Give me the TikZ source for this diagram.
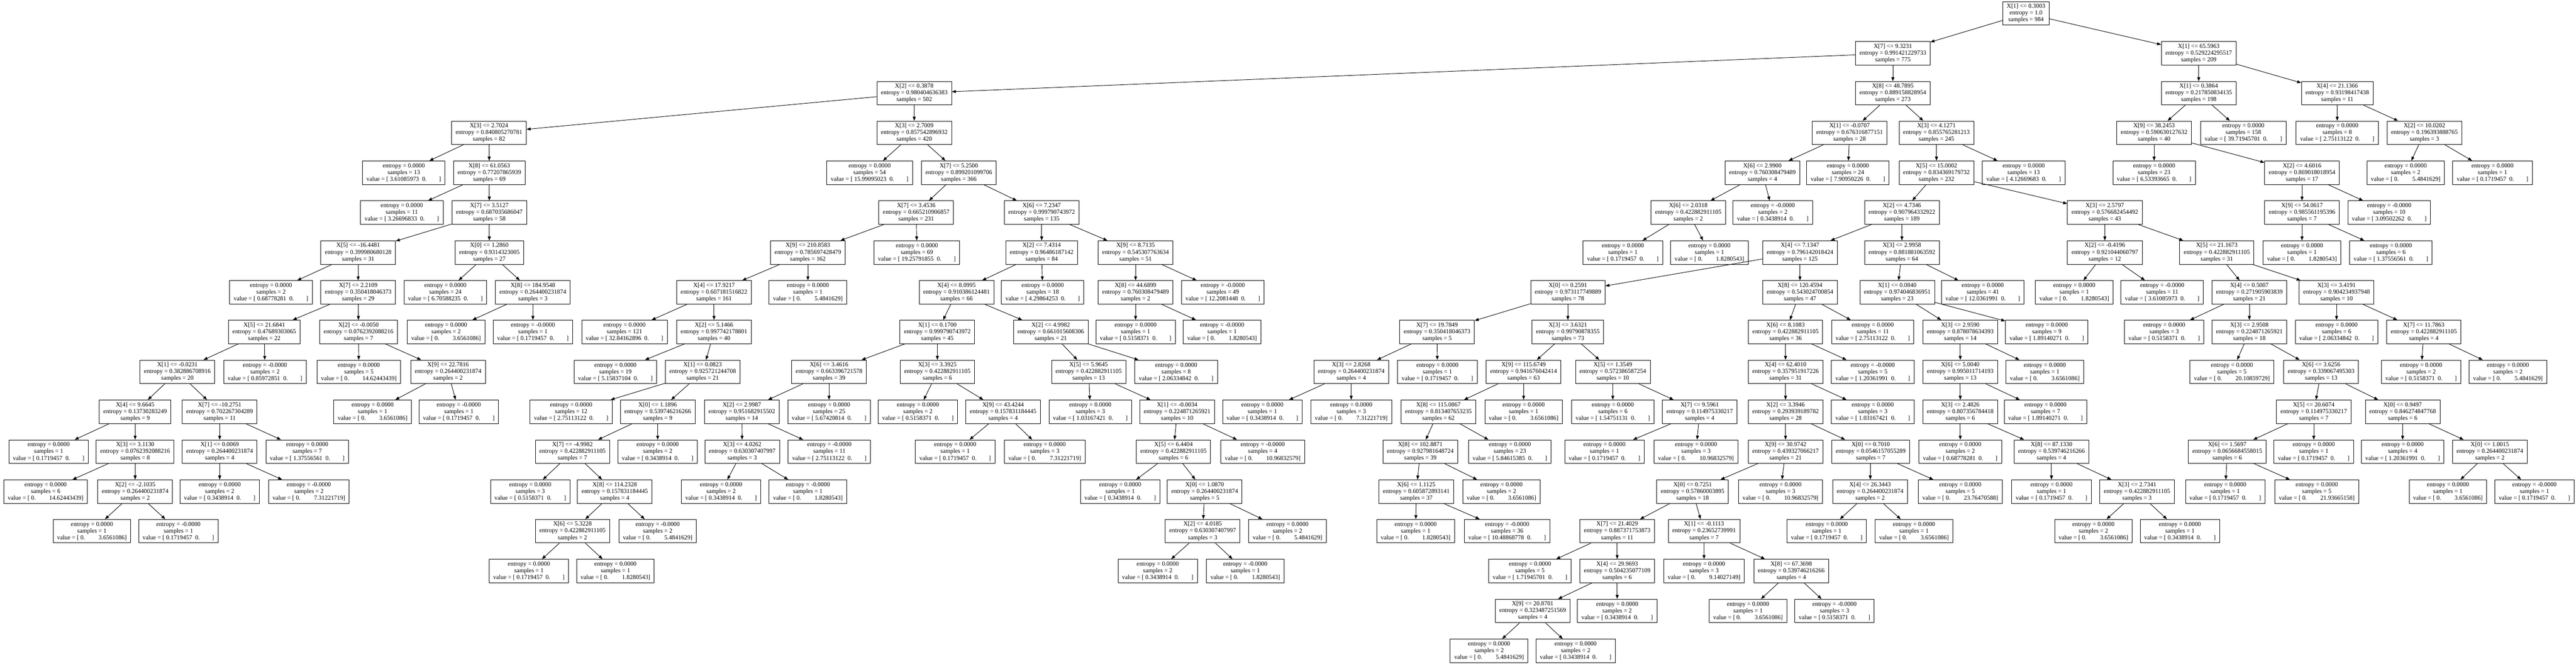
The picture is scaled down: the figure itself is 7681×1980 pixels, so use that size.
\documentclass[tikz,border=0pt]{standalone}
\usepackage{fontspec}
\setmainfont{Liberation Serif}
\usepackage{tikz}
\usetikzlibrary{arrows.meta}
\usetikzlibrary{positioning}
\tikzset{
    split/.style={
           rectangle,
           draw=black, line width=0.4pt,
           align=center,
           inner xsep=0.12cm,
           inner ysep=0.04cm,
           minimum height=0.7cm,
           font=\fontsize{5.2}{5.7}\selectfont,
           },
    leaf/.style={
           split,
           },
    pil/.style={
           ->,
           line width=0.4pt,}
}
\newcommand{\dtsplit}[3]{#1\\entropy = #2\\samples = #3}
\newcommand{\dtleaf}[3]{entropy = #1\\samples = #2\\value = [ #3]}
\newcommand{\valr}[1]{#1\hspace{0.5em}0.\hspace{2em}}
\newcommand{\vall}[1]{0.\hspace{2.2em}#1}
\begin{document}
\begin{tikzpicture}[x=0.01cm,y=-0.01cm,->,>={Triangle[length=1.2mm,width=0.9mm]}]
\useasboundingbox (0,0) rectangle (7681,1980);
% ROOT
\node[split] (N0) at (6041,40) {\dtsplit{X[1] <= 0.3003}{1.0}{984}};
% LEFT BRANCH
\node[split] (N1) at (5644,159) {\dtsplit{X[7] <= 9.3231}{0.991421229733}{775}};
\node[split] (N2) at (2726,278) {\dtsplit{X[2] <= 0.3878}{0.980404636383}{502}};
\node[split] (N3) at (1458,396) {\dtsplit{X[3] <= 2.7024}{0.840805270781}{82}};
\node[leaf] (N4) at (1204,515) {\dtleaf{0.0000}{13}{\valr{3.61085973}}};
\node[split] (N5) at (1459,515) {\dtsplit{X[8] <= 61.0563}{0.77207865939}{69}};
\node[leaf] (N6) at (1198,634) {\dtleaf{0.0000}{11}{\valr{3.26696833}}};
\node[split] (N7) at (1459,634) {\dtsplit{X[7] <= 3.5127}{0.687035686047}{58}};
\node[split] (N8) at (1068,753) {\dtsplit{X[5] <= -16.4481}{0.399980680128}{31}};
\node[leaf] (N9) at (808,872) {\dtleaf{0.0000}{2}{\valr{0.68778281}}};
\node[split] (N10) at (1068,872) {\dtsplit{X[7] <= 2.2109}{0.350418046373}{29}};
\node[split] (N11) at (788,990) {\dtsplit{X[5] <= 21.6841}{0.47689303065}{22}};
\node[split] (N12) at (529,1109) {\dtsplit{X[1] <= -0.0231}{0.382886708916}{20}};
\node[split] (N13) at (403,1228) {\dtsplit{X[4] <= 9.6645}{0.13730283249}{9}};
\node[leaf] (N14) at (145,1347) {\dtleaf{0.0000}{1}{\valr{0.1719457}}};
\node[split] (N15) at (403,1347) {\dtsplit{X[3] <= 3.1130}{0.0762392088216}{8}};
\node[leaf] (N16) at (136,1466) {\dtleaf{0.0000}{6}{\vall{14.62443439}}};
\node[split] (N17) at (403,1466) {\dtsplit{X[2] <= -2.1035}{0.264400231874}{2}};
\node[leaf] (N18) at (274,1584) {\dtleaf{0.0000}{1}{\vall{3.6561086}}};
\node[leaf] (N19) at (532,1584) {\dtleaf{-0.0000}{1}{\valr{0.1719457}}};
\node[split] (N20) at (655,1228) {\dtsplit{X[7] <= -10.2751}{0.702267304289}{11}};
\node[split] (N21) at (655,1347) {\dtsplit{X[1] <= 0.0069}{0.264400231874}{4}};
\node[leaf] (N22) at (655,1466) {\dtleaf{0.0000}{2}{\valr{0.3438914}}};
\node[leaf] (N23) at (921,1466) {\dtleaf{-0.0000}{2}{\vall{7.31221719}}};
\node[leaf] (N24) at (916,1347) {\dtleaf{0.0000}{7}{\valr{1.37556561}}};
\node[leaf] (N25) at (790,1109) {\dtleaf{-0.0000}{2}{\valr{0.85972851}}};
\node[split] (N26) at (1069,990) {\dtsplit{X[2] <= -0.0050}{0.0762392088216}{7}};
\node[leaf] (N27) at (1070,1109) {\dtleaf{0.0000}{5}{\vall{14.62443439}}};
\node[split] (N28) at (1336,1109) {\dtsplit{X[9] <= 22.7816}{0.264400231874}{2}};
\node[leaf] (N29) at (1111,1228) {\dtleaf{0.0000}{1}{\vall{3.6561086}}};
\node[leaf] (N30) at (1368,1228) {\dtleaf{-0.0000}{1}{\valr{0.1719457}}};
\node[split] (N31) at (1459,753) {\dtsplit{X[0] <= 1.2860}{0.9314323005}{27}};
\node[leaf] (N32) at (1328,872) {\dtleaf{0.0000}{24}{\valr{6.70588235}}};
\node[split] (N33) at (1589,872) {\dtsplit{X[8] <= 184.9548}{0.264400231874}{3}};
\node[leaf] (N34) at (1330,990) {\dtleaf{0.0000}{2}{\vall{3.6561086}}};
\node[leaf] (N35) at (1589,990) {\dtleaf{-0.0000}{1}{\valr{0.1719457}}};
\node[split] (N36) at (2726,396) {\dtsplit{X[3] <= 2.7009}{0.857542896932}{420}};
\node[leaf] (N37) at (2593,515) {\dtleaf{0.0000}{54}{\valr{15.99095023}}};
\node[split] (N38) at (2859,515) {\dtsplit{X[7] <= 5.2500}{0.899201099706}{366}};
\node[split] (N39) at (2732,634) {\dtsplit{X[7] <= 3.4536}{0.665210906857}{231}};
\node[split] (N40) at (2409,753) {\dtsplit{X[9] <= 210.8583}{0.785697428479}{162}};
\node[split] (N41) at (2129,872) {\dtsplit{X[4] <= 17.9217}{0.607181516822}{161}};
\node[leaf] (N42) at (1862,990) {\dtleaf{0.0000}{121}{\valr{32.84162896}}};
\node[split] (N43) at (2129,990) {\dtsplit{X[2] <= 5.1466}{0.997742178801}{40}};
\node[leaf] (N44) at (1835,1109) {\dtleaf{0.0000}{19}{\valr{5.15837104}}};
\node[split] (N45) at (2095,1109) {\dtsplit{X[1] <= 0.0823}{0.925721244708}{21}};
\node[leaf] (N46) at (1703,1228) {\dtleaf{0.0000}{12}{\valr{2.75113122}}};
\node[split] (N47) at (1961,1228) {\dtsplit{X[0] <= 1.1896}{0.539746216266}{9}};
\node[split] (N48) at (1707,1347) {\dtsplit{X[7] <= -4.9982}{0.422882911105}{7}};
\node[leaf] (N49) at (1581,1466) {\dtleaf{0.0000}{3}{\valr{0.5158371}}};
\node[split] (N50) at (1833,1466) {\dtsplit{X[8] <= 114.2328}{0.157831184445}{4}};
\node[split] (N51) at (1707,1584) {\dtsplit{X[6] <= 5.3228}{0.422882911105}{2}};
\node[leaf] (N52) at (1577,1703) {\dtleaf{0.0000}{1}{\valr{0.1719457}}};
\node[leaf] (N53) at (1835,1703) {\dtleaf{0.0000}{1}{\vall{1.8280543}}};
\node[leaf] (N54) at (1961,1584) {\dtleaf{-0.0000}{2}{\vall{5.4841629}}};
\node[leaf] (N55) at (1961,1347) {\dtleaf{0.0000}{2}{\valr{0.3438914}}};
\node[leaf] (N56) at (2409,872) {\dtleaf{0.0000}{1}{\vall{5.4841629}}};
\node[leaf] (N57) at (2734,753) {\dtleaf{0.0000}{69}{\valr{19.25791855}}};
\node[split] (N58) at (3106,634) {\dtsplit{X[6] <= 7.2347}{0.999790743972}{135}};
\node[split] (N59) at (3106,753) {\dtsplit{X[2] <= 7.4314}{0.96486187142}{84}};
\node[split] (N60) at (2852,872) {\dtsplit{X[4] <= 8.0995}{0.910386124481}{66}};
\node[split] (N61) at (2795,990) {\dtsplit{X[1] <= 0.1700}{0.999790743972}{45}};
\node[split] (N62) at (2472,1109) {\dtsplit{X[6] <= 3.4616}{0.663396721578}{39}};
\node[split] (N63) at (2212,1228) {\dtsplit{X[2] <= 2.9987}{0.951682915502}{14}};
\node[split] (N64) at (2213,1347) {\dtsplit{X[3] <= 4.0262}{0.630307407997}{3}};
\node[leaf] (N65) at (2150,1466) {\dtleaf{0.0000}{2}{\valr{0.3438914}}};
\node[leaf] (N66) at (2409,1466) {\dtleaf{-0.0000}{1}{\vall{1.8280543}}};
\node[leaf] (N67) at (2473,1347) {\dtleaf{-0.0000}{11}{\valr{2.75113122}}};
\node[leaf] (N68) at (2472,1228) {\dtleaf{0.0000}{25}{\valr{5.67420814}}};
\node[split] (N69) at (2795,1109) {\dtsplit{X[3] <= 3.3925}{0.422882911105}{6}};
\node[leaf] (N70) at (2737,1228) {\dtleaf{0.0000}{2}{\valr{0.5158371}}};
\node[split] (N71) at (2991,1228) {\dtsplit{X[9] <= 43.4244}{0.157831184445}{4}};
\node[leaf] (N72) at (2848,1347) {\dtleaf{0.0000}{1}{\valr{0.1719457}}};
\node[leaf] (N73) at (3115,1347) {\dtleaf{0.0000}{3}{\vall{7.31221719}}};
\node[split] (N74) at (3133,990) {\dtsplit{X[2] <= 4.9982}{0.661015608306}{21}};
\node[split] (N75) at (3246,1109) {\dtsplit{X[5] <= 5.9645}{0.422882911105}{13}};
\node[leaf] (N76) at (3251,1228) {\dtleaf{0.0000}{3}{\valr{1.03167421}}};
\node[split] (N77) at (3510,1228) {\dtsplit{X[1] <= -0.0034}{0.224871265921}{10}};
\node[split] (N78) at (3499,1347) {\dtsplit{X[5] <= 6.4404}{0.422882911105}{6}};
\node[leaf] (N79) at (3340,1466) {\dtleaf{0.0000}{1}{\valr{0.3438914}}};
\node[split] (N80) at (3592,1466) {\dtsplit{X[0] <= 1.0870}{0.264400231874}{5}};
\node[split] (N81) at (3586,1584) {\dtsplit{X[2] <= 4.0185}{0.630307407997}{3}};
\node[leaf] (N82) at (3452,1703) {\dtleaf{0.0000}{2}{\valr{0.3438914}}};
\node[leaf] (N83) at (3713,1703) {\dtleaf{-0.0000}{1}{\vall{1.8280543}}};
\node[leaf] (N84) at (3839,1584) {\dtleaf{0.0000}{2}{\vall{5.4841629}}};
\node[leaf] (N85) at (3765,1347) {\dtleaf{-0.0000}{4}{\vall{10.96832579}}};
\node[leaf] (N86) at (3507,1109) {\dtleaf{0.0000}{8}{\valr{2.06334842}}};
\node[leaf] (N87) at (3109,872) {\dtleaf{0.0000}{18}{\valr{4.29864253}}};
\node[split] (N88) at (3386,753) {\dtsplit{X[9] <= 8.7135}{0.545307763634}{51}};
\node[split] (N89) at (3386,872) {\dtsplit{X[8] <= 44.6899}{0.760308479489}{2}};
\node[leaf] (N90) at (3386,990) {\dtleaf{0.0000}{1}{\valr{0.5158371}}};
\node[leaf] (N91) at (3644,990) {\dtleaf{-0.0000}{1}{\vall{1.8280543}}};
\node[leaf] (N92) at (3646,872) {\dtleaf{-0.0000}{49}{\valr{12.2081448}}};
% MIDDLE BRANCH
\node[split] (N93) at (5644,278) {\dtsplit{X[8] <= 48.7895}{0.889158828954}{273}};
\node[split] (N94) at (5515,396) {\dtsplit{X[1] <= -0.0707}{0.676316877151}{28}};
\node[split] (N95) at (5255,515) {\dtsplit{X[6] <= 2.9900}{0.760308479489}{4}};
\node[split] (N96) at (5034,634) {\dtsplit{X[6] <= 2.0318}{0.422882911105}{2}};
\node[leaf] (N97) at (4839,753) {\dtleaf{0.0000}{1}{\valr{0.1719457}}};
\node[leaf] (N98) at (5097,753) {\dtleaf{0.0000}{1}{\vall{1.8280543}}};
\node[leaf] (N99) at (5286,634) {\dtleaf{-0.0000}{2}{\valr{0.3438914}}};
\node[leaf] (N100) at (5510,515) {\dtleaf{0.0000}{24}{\valr{7.90950226}}};
\node[split] (N101) at (5774,396) {\dtsplit{X[3] <= 4.1271}{0.855765281213}{245}};
\node[split] (N102) at (5774,515) {\dtsplit{X[5] <= 15.0002}{0.834369179732}{232}};
\node[split] (N103) at (5671,634) {\dtsplit{X[2] <= 4.7346}{0.907964332922}{189}};
\node[split] (N104) at (5367,753) {\dtsplit{X[4] <= 7.1347}{0.796142018424}{125}};
\node[split] (N105) at (4675,872) {\dtsplit{X[0] <= 0.2591}{0.973117749889}{78}};
\node[split] (N106) at (4285,990) {\dtsplit{X[7] <= 19.7849}{0.350418046373}{5}};
\node[split] (N107) at (4029,1109) {\dtsplit{X[3] <= 2.8268}{0.264400231874}{4}};
\node[leaf] (N108) at (3764,1228) {\dtleaf{0.0000}{1}{\valr{0.3438914}}};
\node[leaf] (N109) at (4029,1228) {\dtleaf{0.0000}{3}{\vall{7.31221719}}};
\node[leaf] (N110) at (4286,1109) {\dtleaf{0.0000}{1}{\valr{0.1719457}}};
\node[split] (N111) at (4675,990) {\dtsplit{X[3] <= 3.6321}{0.99790878355}{73}};
\node[split] (N112) at (4543,1109) {\dtsplit{X[9] <= 115.6749}{0.941676042414}{63}};
\node[split] (N113) at (4289,1228) {\dtsplit{X[8] <= 115.0867}{0.813407653235}{62}};
\node[split] (N114) at (4235,1347) {\dtsplit{X[8] <= 102.8871}{0.927981648724}{39}};
\node[split] (N115) at (4223,1466) {\dtsplit{X[6] <= 1.1125}{0.605872893141}{37}};
\node[leaf] (N116) at (4221,1584) {\dtleaf{0.0000}{1}{\vall{1.8280543}}};
\node[leaf] (N117) at (4494,1584) {\dtleaf{-0.0000}{36}{\valr{10.48868778}}};
\node[leaf] (N118) at (4477,1466) {\dtleaf{0.0000}{2}{\vall{3.6561086}}};
\node[leaf] (N119) at (4502,1347) {\dtleaf{0.0000}{23}{\valr{5.84615385}}};
\node[leaf] (N120) at (4543,1228) {\dtleaf{0.0000}{1}{\vall{3.6561086}}};
\node[split] (N121) at (4809,1109) {\dtsplit{X[5] <= 1.3549}{0.572386587254}{10}};
\node[leaf] (N122) at (4809,1228) {\dtleaf{0.0000}{6}{\valr{1.54751131}}};
\node[split] (N123) at (5068,1228) {\dtsplit{X[7] <= 9.5961}{0.114975330217}{4}};
\node[leaf] (N124) at (4784,1347) {\dtleaf{0.0000}{1}{\valr{0.1719457}}};
\node[leaf] (N125) at (5057,1347) {\dtleaf{0.0000}{3}{\vall{10.96832579}}};
\node[split] (N126) at (5367,872) {\dtsplit{X[8] <= 120.4594}{0.543024700854}{47}};
\node[split] (N127) at (5324,990) {\dtsplit{X[6] <= 8.1083}{0.422882911105}{36}};
\node[split] (N128) at (5324,1109) {\dtsplit{X[4] <= 62.4010}{0.357951917226}{31}};
\node[split] (N129) at (5324,1228) {\dtsplit{X[2] <= 3.3946}{0.293939189782}{28}};
\node[split] (N130) at (5324,1347) {\dtsplit{X[9] <= 30.9742}{0.439327066217}{21}};
\node[split] (N131) at (5047,1466) {\dtsplit{X[0] <= 0.7251}{0.57860003895}{18}};
\node[split] (N132) at (4822,1584) {\dtsplit{X[7] <= 21.4029}{0.887371753873}{11}};
\node[leaf] (N133) at (4562,1703) {\dtleaf{0.0000}{5}{\valr{1.71945701}}};
\node[split] (N134) at (4822,1703) {\dtsplit{X[4] <= 29.9693}{0.504235077109}{6}};
\node[split] (N135) at (4570,1822) {\dtsplit{X[9] <= 20.8701}{0.323487251569}{4}};
\node[leaf] (N136) at (4440,1941) {\dtleaf{0.0000}{2}{\vall{5.4841629}}};
\node[leaf] (N137) at (4698,1941) {\dtleaf{0.0000}{2}{\valr{0.3438914}}};
\node[leaf] (N138) at (4822,1822) {\dtleaf{0.0000}{2}{\valr{0.3438914}}};
\node[split] (N139) at (5081,1584) {\dtsplit{X[1] <= -0.1113}{0.23652739991}{7}};
\node[leaf] (N140) at (5081,1703) {\dtleaf{0.0000}{3}{\vall{9.14027149}}};
\node[split] (N141) at (5341,1703) {\dtsplit{X[8] <= 67.3698}{0.539746216266}{4}};
\node[leaf] (N142) at (5212,1822) {\dtleaf{0.0000}{1}{\vall{3.6561086}}};
\node[leaf] (N143) at (5470,1822) {\dtleaf{-0.0000}{3}{\valr{0.5158371}}};
\node[leaf] (N144) at (5309,1466) {\dtleaf{0.0000}{3}{\vall{10.96832579}}};
\node[split] (N145) at (5578,1347) {\dtsplit{X[0] <= 0.7010}{0.0546157055289}{7}};
\node[split] (N146) at (5576,1466) {\dtsplit{X[4] <= 26.3443}{0.264400231874}{2}};
\node[leaf] (N147) at (5447,1584) {\dtleaf{0.0000}{1}{\valr{0.1719457}}};
\node[leaf] (N148) at (5707,1584) {\dtleaf{0.0000}{1}{\vall{3.6561086}}};
\node[leaf] (N149) at (5845,1466) {\dtleaf{0.0000}{5}{\vall{23.76470588}}};
\node[leaf] (N150) at (5584,1228) {\dtleaf{0.0000}{3}{\valr{1.03167421}}};
\node[leaf] (N151) at (5584,1109) {\dtleaf{-0.0000}{5}{\valr{1.20361991}}};
\node[leaf] (N152) at (5584,990) {\dtleaf{0.0000}{11}{\valr{2.75113122}}};
\node[split] (N153) at (5671,753) {\dtsplit{X[3] <= 2.9958}{0.881881063592}{64}};
\node[split] (N154) at (5657,872) {\dtsplit{X[1] <= 0.0840}{0.974046836951}{23}};
\node[split] (N155) at (5845,990) {\dtsplit{X[3] <= 2.9590}{0.878078634393}{14}};
\node[split] (N156) at (5845,1109) {\dtsplit{X[6] <= 5.0040}{0.995011714193}{13}};
\node[split] (N157) at (5845,1228) {\dtsplit{X[3] <= 2.4826}{0.807356784418}{6}};
\node[leaf] (N158) at (5845,1347) {\dtleaf{0.0000}{2}{\valr{0.68778281}}};
\node[split] (N159) at (6117,1347) {\dtsplit{X[8] <= 87.1330}{0.539746216266}{4}};
\node[leaf] (N160) at (6117,1466) {\dtleaf{0.0000}{1}{\valr{0.1719457}}};
\node[split] (N161) at (6372,1466) {\dtsplit{X[3] <= 2.7341}{0.422882911105}{3}};
\node[leaf] (N162) at (6242,1584) {\dtleaf{0.0000}{2}{\vall{3.6561086}}};
\node[leaf] (N163) at (6500,1584) {\dtleaf{0.0000}{1}{\valr{0.3438914}}};
\node[leaf] (N164) at (6099,1228) {\dtleaf{0.0000}{7}{\valr{1.89140271}}};
\node[leaf] (N165) at (6097,1109) {\dtleaf{0.0000}{1}{\vall{3.6561086}}};
\node[leaf] (N166) at (6103,990) {\dtleaf{0.0000}{9}{\valr{1.89140271}}};
\node[leaf] (N167) at (5912,872) {\dtleaf{0.0000}{41}{\valr{12.0361991}}};
\node[split] (N168) at (6276,634) {\dtsplit{X[3] <= 2.5797}{0.576682454492}{43}};
\node[split] (N169) at (6276,753) {\dtsplit{X[2] <= -0.4196}{0.921044060797}{12}};
\node[leaf] (N170) at (6185,872) {\dtleaf{0.0000}{1}{\vall{1.8280543}}};
\node[leaf] (N171) at (6447,872) {\dtleaf{-0.0000}{11}{\valr{3.61085973}}};
\node[split] (N172) at (6610,753) {\dtsplit{X[5] <= 21.1673}{0.422882911105}{31}};
\node[split] (N173) at (6707,872) {\dtsplit{X[4] <= 0.5007}{0.271905903839}{21}};
\node[leaf] (N174) at (6453,990) {\dtleaf{0.0000}{3}{\valr{0.5158371}}};
\node[split] (N175) at (6707,990) {\dtsplit{X[3] <= 2.9508}{0.224871265921}{18}};
\node[leaf] (N176) at (6655,1109) {\dtleaf{0.0000}{5}{\vall{20.10859729}}};
\node[split] (N177) at (6921,1109) {\dtsplit{X[6] <= 3.6256}{0.339067495303}{13}};
\node[split] (N178) at (6899,1228) {\dtsplit{X[5] <= 20.6074}{0.114975330217}{7}};
\node[split] (N179) at (6641,1347) {\dtsplit{X[6] <= 1.5697}{0.0656684558015}{6}};
\node[leaf] (N180) at (6635,1466) {\dtleaf{0.0000}{1}{\valr{0.1719457}}};
\node[leaf] (N181) at (6908,1466) {\dtleaf{0.0000}{5}{\vall{21.93665158}}};
\node[leaf] (N182) at (6899,1347) {\dtleaf{0.0000}{1}{\valr{0.1719457}}};
\node[split] (N183) at (7164,1228) {\dtsplit{X[0] <= 0.9497}{0.846274847768}{6}};
\node[leaf] (N184) at (7164,1347) {\dtleaf{0.0000}{4}{\valr{1.20361991}}};
\node[split] (N185) at (7424,1347) {\dtsplit{X[0] <= 1.0015}{0.264400231874}{2}};
\node[leaf] (N186) at (7299,1466) {\dtleaf{0.0000}{1}{\vall{3.6561086}}};
\node[leaf] (N187) at (7557,1466) {\dtleaf{-0.0000}{1}{\valr{0.1719457}}};
\node[split] (N188) at (6967,872) {\dtsplit{X[3] <= 3.4191}{0.904234937948}{10}};
\node[leaf] (N189) at (6967,990) {\dtleaf{0.0000}{6}{\valr{2.06334842}}};
\node[split] (N190) at (7227,990) {\dtsplit{X[7] <= 11.7863}{0.422882911105}{4}};
\node[leaf] (N191) at (7219,1109) {\dtleaf{0.0000}{2}{\valr{0.5158371}}};
\node[leaf] (N192) at (7478,1109) {\dtleaf{0.0000}{2}{\vall{5.4841629}}};
\node[leaf] (N193) at (6034,515) {\dtleaf{0.0000}{13}{\valr{4.12669683}}};
% RIGHT BRANCH
\node[split] (N194) at (6556,159) {\dtsplit{X[1] <= 65.5963}{0.529224295517}{209}};
\node[split] (N195) at (6556,278) {\dtsplit{X[1] <= 0.3864}{0.217850834135}{198}};
\node[split] (N196) at (6423,396) {\dtsplit{X[9] <= 38.2453}{0.590630127632}{40}};
\node[leaf] (N197) at (6423,515) {\dtleaf{0.0000}{23}{\valr{6.53393665}}};
\node[split] (N198) at (6864,515) {\dtsplit{X[2] <= 4.6016}{0.869018018954}{17}};
\node[split] (N199) at (6864,634) {\dtsplit{X[9] <= 54.0617}{0.985561195396}{7}};
\node[leaf] (N200) at (6864,753) {\dtleaf{0.0000}{1}{\vall{1.8280543}}};
\node[leaf] (N201) at (7129,753) {\dtleaf{0.0000}{6}{\valr{1.37556561}}};
\node[leaf] (N202) at (7124,634) {\dtleaf{-0.0000}{10}{\valr{3.09502262}}};
\node[leaf] (N203) at (6689,396) {\dtleaf{0.0000}{158}{\valr{39.71945701}}};
\node[split] (N204) at (6969,278) {\dtsplit{X[4] <= 21.1366}{0.93198417438}{11}};
\node[leaf] (N205) at (6969,396) {\dtleaf{0.0000}{8}{\valr{2.75113122}}};
\node[split] (N206) at (7229,396) {\dtsplit{X[2] <= 10.0202}{0.196393888765}{3}};
\node[leaf] (N207) at (7173,515) {\dtleaf{0.0000}{2}{\vall{5.4841629}}};
\node[leaf] (N208) at (7432,515) {\dtleaf{0.0000}{1}{\valr{0.1719457}}};
% Draw lines on graph
\path (N0) edge[pil] (N1) edge[pil] (N194);
\path (N1) edge[pil] (N2) edge[pil] (N93);
\path (N2) edge[pil] (N3) edge[pil] (N36);
\path (N3) edge[pil] (N4) edge[pil] (N5);
\path (N5) edge[pil] (N6) edge[pil] (N7);
\path (N7) edge[pil] (N8) edge[pil] (N31);
\path (N8) edge[pil] (N9) edge[pil] (N10);
\path (N10) edge[pil] (N11) edge[pil] (N26);
\path (N11) edge[pil] (N12) edge[pil] (N25);
\path (N12) edge[pil] (N13) edge[pil] (N20);
\path (N13) edge[pil] (N14) edge[pil] (N15);
\path (N15) edge[pil] (N16) edge[pil] (N17);
\path (N17) edge[pil] (N18) edge[pil] (N19);
\path (N20) edge[pil] (N21) edge[pil] (N24);
\path (N21) edge[pil] (N22) edge[pil] (N23);
\path (N26) edge[pil] (N27) edge[pil] (N28);
\path (N28) edge[pil] (N29) edge[pil] (N30);
\path (N31) edge[pil] (N32) edge[pil] (N33);
\path (N33) edge[pil] (N34) edge[pil] (N35);
\path (N36) edge[pil] (N37) edge[pil] (N38);
\path (N38) edge[pil] (N39) edge[pil] (N58);
\path (N39) edge[pil] (N40) edge[pil] (N57);
\path (N40) edge[pil] (N41) edge[pil] (N56);
\path (N41) edge[pil] (N42) edge[pil] (N43);
\path (N43) edge[pil] (N44) edge[pil] (N45);
\path (N45) edge[pil] (N46) edge[pil] (N47);
\path (N47) edge[pil] (N48) edge[pil] (N55);
\path (N48) edge[pil] (N49) edge[pil] (N50);
\path (N50) edge[pil] (N51) edge[pil] (N54);
\path (N51) edge[pil] (N52) edge[pil] (N53);
\path (N58) edge[pil] (N59) edge[pil] (N88);
\path (N59) edge[pil] (N60) edge[pil] (N87);
\path (N60) edge[pil] (N61) edge[pil] (N74);
\path (N61) edge[pil] (N62) edge[pil] (N69);
\path (N62) edge[pil] (N63) edge[pil] (N68);
\path (N63) edge[pil] (N64) edge[pil] (N67);
\path (N64) edge[pil] (N65) edge[pil] (N66);
\path (N69) edge[pil] (N70) edge[pil] (N71);
\path (N71) edge[pil] (N72) edge[pil] (N73);
\path (N74) edge[pil] (N75) edge[pil] (N86);
\path (N75) edge[pil] (N76) edge[pil] (N77);
\path (N77) edge[pil] (N78) edge[pil] (N85);
\path (N78) edge[pil] (N79) edge[pil] (N80);
\path (N80) edge[pil] (N81) edge[pil] (N84);
\path (N81) edge[pil] (N82) edge[pil] (N83);
\path (N88) edge[pil] (N89) edge[pil] (N92);
\path (N89) edge[pil] (N90) edge[pil] (N91);
\path (N93) edge[pil] (N94) edge[pil] (N101);
\path (N94) edge[pil] (N95) edge[pil] (N100);
\path (N95) edge[pil] (N96) edge[pil] (N99);
\path (N96) edge[pil] (N97) edge[pil] (N98);
\path (N101) edge[pil] (N102) edge[pil] (N193);
\path (N102) edge[pil] (N103) edge[pil] (N168);
\path (N103) edge[pil] (N104) edge[pil] (N153);
\path (N104) edge[pil] (N105) edge[pil] (N126);
\path (N105) edge[pil] (N106) edge[pil] (N111);
\path (N106) edge[pil] (N107) edge[pil] (N110);
\path (N107) edge[pil] (N108) edge[pil] (N109);
\path (N111) edge[pil] (N112) edge[pil] (N121);
\path (N112) edge[pil] (N113) edge[pil] (N120);
\path (N113) edge[pil] (N114) edge[pil] (N119);
\path (N114) edge[pil] (N115) edge[pil] (N118);
\path (N115) edge[pil] (N116) edge[pil] (N117);
\path (N121) edge[pil] (N122) edge[pil] (N123);
\path (N123) edge[pil] (N124) edge[pil] (N125);
\path (N126) edge[pil] (N127) edge[pil] (N152);
\path (N127) edge[pil] (N128) edge[pil] (N151);
\path (N128) edge[pil] (N129) edge[pil] (N150);
\path (N129) edge[pil] (N130) edge[pil] (N145);
\path (N130) edge[pil] (N131) edge[pil] (N144);
\path (N131) edge[pil] (N132) edge[pil] (N139);
\path (N132) edge[pil] (N133) edge[pil] (N134);
\path (N134) edge[pil] (N135) edge[pil] (N138);
\path (N135) edge[pil] (N136) edge[pil] (N137);
\path (N139) edge[pil] (N140) edge[pil] (N141);
\path (N141) edge[pil] (N142) edge[pil] (N143);
\path (N145) edge[pil] (N146) edge[pil] (N149);
\path (N146) edge[pil] (N147) edge[pil] (N148);
\path (N153) edge[pil] (N154) edge[pil] (N167);
\path (N154) edge[pil] (N155) edge[pil] (N166);
\path (N155) edge[pil] (N156) edge[pil] (N165);
\path (N156) edge[pil] (N157) edge[pil] (N164);
\path (N157) edge[pil] (N158) edge[pil] (N159);
\path (N159) edge[pil] (N160) edge[pil] (N161);
\path (N161) edge[pil] (N162) edge[pil] (N163);
\path (N168) edge[pil] (N169) edge[pil] (N172);
\path (N169) edge[pil] (N170) edge[pil] (N171);
\path (N172) edge[pil] (N173) edge[pil] (N188);
\path (N173) edge[pil] (N174) edge[pil] (N175);
\path (N175) edge[pil] (N176) edge[pil] (N177);
\path (N177) edge[pil] (N178) edge[pil] (N183);
\path (N178) edge[pil] (N179) edge[pil] (N182);
\path (N179) edge[pil] (N180) edge[pil] (N181);
\path (N183) edge[pil] (N184) edge[pil] (N185);
\path (N185) edge[pil] (N186) edge[pil] (N187);
\path (N188) edge[pil] (N189) edge[pil] (N190);
\path (N190) edge[pil] (N191) edge[pil] (N192);
\path (N194) edge[pil] (N195) edge[pil] (N204);
\path (N195) edge[pil] (N196) edge[pil] (N203);
\path (N196) edge[pil] (N197) edge[pil] (N198);
\path (N198) edge[pil] (N199) edge[pil] (N202);
\path (N199) edge[pil] (N200) edge[pil] (N201);
\path (N204) edge[pil] (N205) edge[pil] (N206);
\path (N206) edge[pil] (N207) edge[pil] (N208);
\end{tikzpicture}
\end{document}
